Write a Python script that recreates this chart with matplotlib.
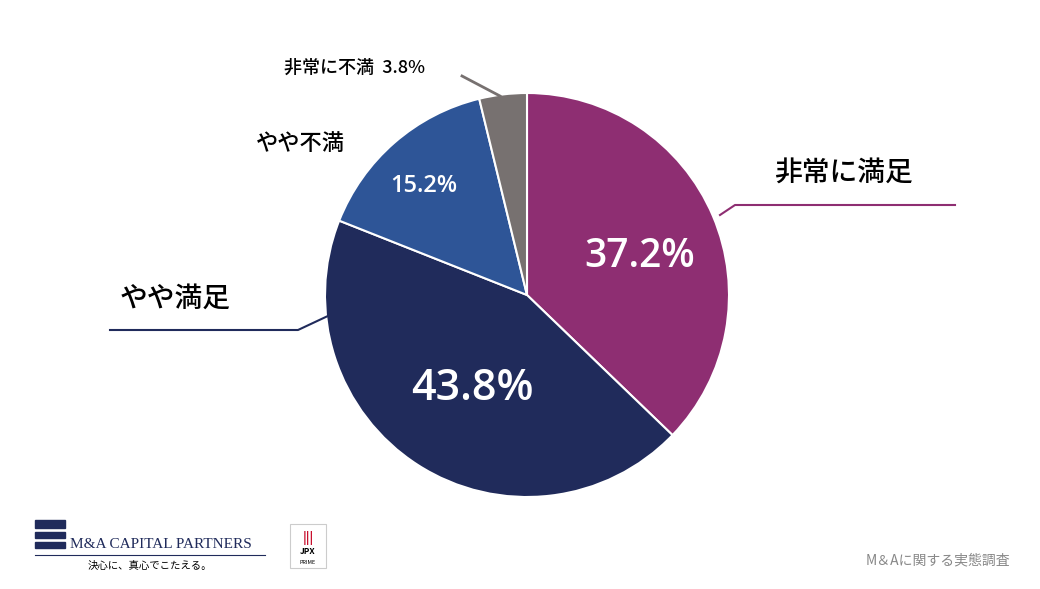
import matplotlib.pyplot as plt
from matplotlib.patches import Rectangle

plt.rcParams['font.family'] = 'Noto Sans CJK JP'

categories = ['非常に満足', 'やや満足', 'やや不満', '非常に不満']
shares = [37.2, 43.8, 15.2, 3.8]
colors = ['#8e2e72', '#202b5b', '#2e5597', '#777170']

W, H = 1040, 589
fig = plt.figure(figsize=(W / 100, H / 100), dpi=100)
fig.patch.set_facecolor('white')

cx, cy, r = 527, 295, 202
ax = fig.add_axes([(cx - r) / W, (H - cy - r) / H, 2 * r / W, 2 * r / H])
ax.pie(shares, colors=colors, startangle=90, counterclock=False,
       wedgeprops=dict(edgecolor='white', linewidth=1.5))
ax.set_xlim(-1, 1); ax.set_ylim(-1, 1)
ax.set_aspect('equal')

ov = fig.add_axes([0, 0, 1, 1], facecolor='none')
ov.set_xlim(0, W); ov.set_ylim(H, 0); ov.axis('off')

# percentages inside the slices
ov.text(640, 257, f'{shares[0]}%', color='white', fontsize=28, ha='center', va='center', fontfamily='Open Sans', fontweight='semibold')
ov.text(472, 388, f'{shares[1]}%', color='white', fontsize=31, ha='center', va='center', fontfamily='Open Sans', fontweight='semibold')
ov.text(424, 186, f'{shares[2]}%', color='white', fontsize=17, ha='center', va='center', fontfamily='Open Sans', fontweight='semibold')

# outside labels with leader lines
ov.plot([720, 735, 955], [215, 205, 205], color=colors[0], lw=1.5)
ov.text(843, 172, categories[0], fontsize=20, ha='center', va='center', fontweight='medium')
ov.plot([110, 298, 330], [330, 330, 315], color=colors[1], lw=1.5)
ov.text(175, 298, categories[1], fontsize=20, ha='center', va='center', fontweight='medium')
ov.text(300, 143, categories[2], fontsize=16, ha='center', va='center', fontweight='medium')
ov.plot([462, 500], [76, 96], color=colors[3], lw=2)
ov.text(355, 68, f'{categories[3]}  {shares[3]}%', fontsize=13, ha='center', va='center', fontweight='medium')

# footer
ov.add_patch(Rectangle((35, 520), 30, 8, color='#202b5b'))
ov.add_patch(Rectangle((35, 532), 30, 6, color='#202b5b'))
ov.add_patch(Rectangle((35, 542), 30, 6, color='#202b5b'))
ov.text(70, 545, 'M&A CAPITAL PARTNERS', fontsize=11, fontfamily='Liberation Serif', color='#202b5b', va='center')
ov.plot([35, 265], [555, 555], color='#202b5b', lw=0.8)
ov.text(150, 566, '決心に、真心でこたえる。', fontsize=7.5, ha='center', va='center')
ov.add_patch(Rectangle((290, 524), 36, 44, facecolor='white', edgecolor='#cccccc', lw=0.8))
ov.text(308, 538, '|||', color='#c8102e', fontsize=9, ha='center', va='center', fontweight='bold')
ov.text(308, 552, 'JPX', fontsize=6, ha='center', va='center', fontweight='bold')
ov.text(308, 562, 'PRIME', fontsize=4, ha='center', va='center')
ov.text(1010, 560, 'M＆Aに関する実態調査', fontsize=10, color='#888888', ha='right', va='center')

fig.savefig('out.png', dpi=100)
